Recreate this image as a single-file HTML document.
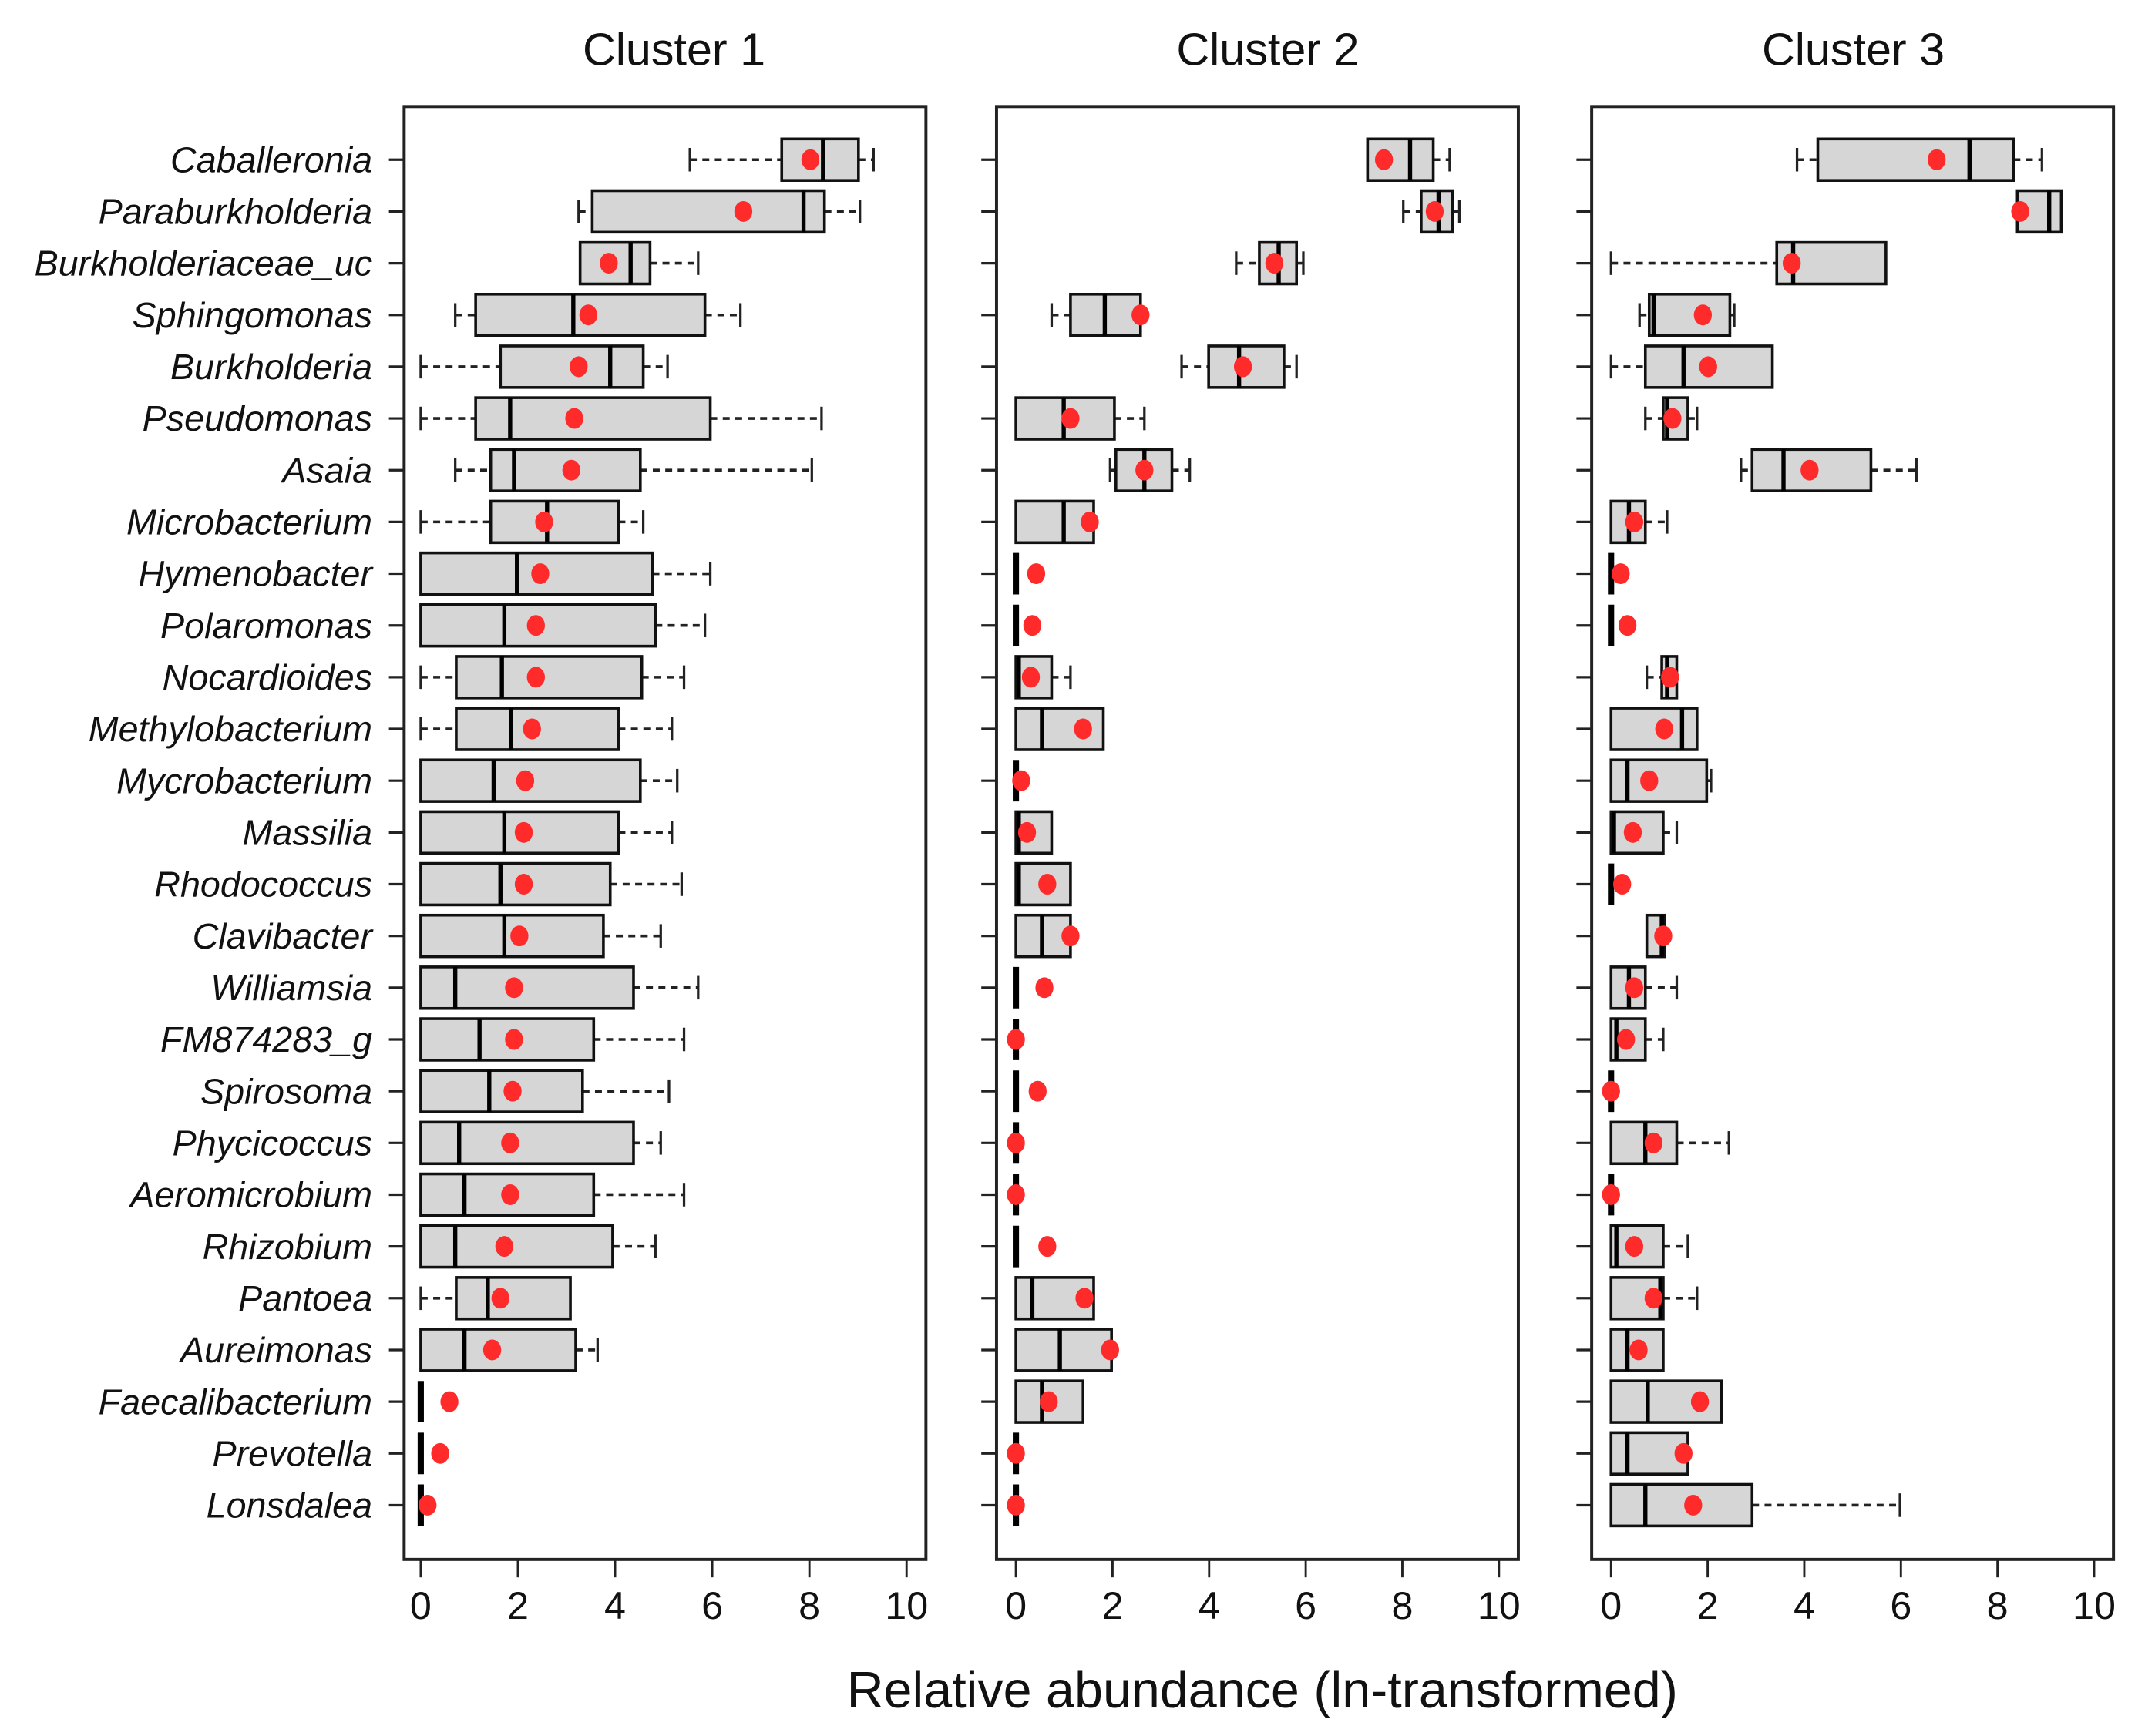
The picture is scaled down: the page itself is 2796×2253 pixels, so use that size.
<!DOCTYPE html>
<html><head><meta charset="utf-8">
<style>html,body{margin:0;padding:0;background:#fff}svg{display:block}</style>
</head><body>
<svg id="chart" width="2796" height="2253" viewBox="0 0 1557 1254.6" xmlns="http://www.w3.org/2000/svg" font-family="Liberation Sans, Arial, sans-serif"></svg>
<script>
const taxa=["Caballeronia","Paraburkholderia","Burkholderiaceae_uc","Sphingomonas","Burkholderia","Pseudomonas","Asaia","Microbacterium","Hymenobacter","Polaromonas","Nocardioides","Methylobacterium","Mycrobacterium","Massilia","Rhodococcus","Clavibacter","Williamsia","FM874283_g","Spirosoma","Phycicoccus","Aeromicrobium","Rhizobium","Pantoea","Aureimonas","Faecalibacterium","Prevotella","Lonsdalea"];
const clusterNames=["Cluster 1","Cluster 2","Cluster 3"];
const xTicks=[0,2,4,6,8,10];
// [whiskerLow, q1, median, q3, whiskerHigh]
const c1Box=[[5.54,7.43,8.28,9.01,9.32],[3.25,3.53,7.88,8.31,9.04],[3.28,3.28,4.32,4.72,5.71],[0.71,1.13,3.14,5.85,6.58],[0,1.64,3.9,4.58,5.08],[0,1.13,1.84,5.96,8.25],[0.71,1.44,1.92,4.52,8.05],[0,1.44,2.6,4.07,4.58],[0,0,1.98,4.77,5.96],[0,0,1.72,4.83,5.85],[0,0.73,1.67,4.55,5.42],[0,0.73,1.86,4.07,5.17],[0,0,1.5,4.52,5.28],[0,0,1.72,4.07,5.17],[0,0,1.64,3.9,5.37],[0,0,1.72,3.76,4.94],[0,0,0.71,4.38,5.71],[0,0,1.21,3.56,5.42],[0,0,1.41,3.33,5.11],[0,0,0.79,4.38,4.94],[0,0,0.9,3.56,5.42],[0,0,0.71,3.95,4.83],[0,0.73,1.38,3.08,3.08],[0,0,0.9,3.19,3.64],[0,0,0,0,0],[0,0,0,0,0],[0,0,0,0,0]];
const c1Mean=[8.02,6.64,3.87,3.45,3.25,3.16,3.1,2.54,2.46,2.37,2.37,2.29,2.15,2.12,2.12,2.03,1.92,1.92,1.89,1.84,1.84,1.72,1.64,1.47,0.59,0.4,0.14];
const c2Box=[[7.28,7.28,8.16,8.64,8.98],[8.02,8.39,8.75,9.04,9.18],[4.56,5.04,5.44,5.81,5.95],[0.74,1.13,1.84,2.58,2.58],[3.43,3.99,4.62,5.55,5.81],[0,0,0.99,2.04,2.66],[1.95,2.07,2.66,3.23,3.6],[0,0,0.99,1.61,1.61],[0,0,0,0,0],[0,0,0,0,0],[0,0,0.06,0.74,1.13],[0,0,0.54,1.81,1.81],[0,0,0,0,0],[0,0,0.06,0.74,0.74],[0,0,0.06,1.13,1.13],[0,0,0.54,1.13,1.13],[0,0,0,0,0],[0,0,0,0,0],[0,0,0,0,0],[0,0,0,0,0],[0,0,0,0,0],[0,0,0,0,0],[0,0,0.34,1.61,1.61],[0,0,0.91,1.98,1.98],[0,0,0.54,1.39,1.39],[0,0,0,0,0],[0,0,0,0,0]];
const c2Mean=[7.62,8.67,5.35,2.58,4.7,1.13,2.66,1.53,0.42,0.34,0.31,1.39,0.11,0.23,0.65,1.13,0.59,0,0.45,0,0,0.65,1.42,1.95,0.68,0,0];
const c3Box=[[3.85,4.28,7.42,8.33,8.92],[8.41,8.41,9.07,9.32,9.32],[0,3.43,3.77,5.69,5.69],[0.59,0.79,0.88,2.46,2.55],[0,0.71,1.5,3.34,3.34],[0.71,1.08,1.16,1.59,1.78],[2.69,2.92,3.57,5.38,6.32],[0,0,0.37,0.71,1.16],[0,0,0,0,0],[0,0,0,0,0],[0.74,1.05,1.16,1.36,1.36],[0,0,1.47,1.78,1.78],[0,0,0.34,1.98,2.07],[0,0,0.06,1.08,1.36],[0,0,0,0,0],[0.74,0.74,1.05,1.1,1.1],[0,0,0.37,0.71,1.36],[0,0,0.11,0.71,1.08],[0,0,0,0,0],[0,0,0.71,1.36,2.44],[0,0,0,0,0],[0,0,0.11,1.08,1.59],[0,0,1.02,1.08,1.78],[0,0,0.34,1.08,1.08],[0,0,0.76,2.29,2.29],[0,0,0.34,1.59,1.59],[0,0,0.71,2.92,5.98]];
const c3Mean=[6.74,8.47,3.74,1.9,2.01,1.27,4.11,0.48,0.2,0.34,1.22,1.1,0.79,0.45,0.23,1.08,0.48,0.31,0,0.88,0,0.48,0.88,0.57,1.84,1.5,1.7];

const boxes=[c1Box,c2Box,c3Box], means=[c1Mean,c2Mean,c3Mean];
const chartSvg=document.getElementById('chart');
const NS='http://www.w3.org/2000/svg';
function mk(tag,attrs,parent){const e=document.createElementNS(NS,tag);for(const k in attrs)e.setAttribute(k,attrs[k]);(parent||chartSvg).appendChild(e);return e;}
const panels=[{l:292,r:669,x0:304,x10:655,cx:487},{l:720,r:1097,x0:734,x10:1083,cx:916},{l:1150,r:1527,x0:1164,x10:1513,cx:1339}];
const topY=77,bottomY=1127,y0=115.4,dy=37.4,bh=30;
function yPos(i){return y0+i*dy;}

panels.forEach((p,pi)=>{
  const xs=v=>p.x0+(p.x10-p.x0)*v/10;
  const g=mk('g',{});
  
  
  const t=mk('text',{x:p.cx,y:47,'text-anchor':'middle','font-size':33,'fill':'#111'},g);
  t.textContent=clusterNames[pi];
  
  
  const fr=mk('rect',{x:p.l,y:topY,width:p.r-p.l,height:bottomY-topY,fill:'none',stroke:'#222','stroke-width':2.2},g);
  
  
  xTicks.forEach(v=>{
    const tl=mk('line',{x1:xs(v),x2:xs(v),y1:bottomY,y2:bottomY+13,stroke:'#222','stroke-width':1.6},g);
    
    
    const tx=mk('text',{x:xs(v),y:1170,'text-anchor':'middle','font-size':28,'fill':'#111'},g);
    tx.textContent=v;
    
    
  });
  taxa.forEach((name,i)=>{
    const y=yPos(i);
    const yt=mk('line',{x1:p.l-11,x2:p.l,y1:y,y2:y,stroke:'#222','stroke-width':1.8},g);
    
    
    if(pi===0){
      const lb=mk('text',{x:269,y:y+9,'text-anchor':'end','font-size':26,'font-style':'italic','fill':'#111'},g);
      lb.textContent=name;
      
      
    }
    const [wl,q1,md,q3,wh]=boxes[pi][i];
    const bg=mk('g',{},g);
    
    
    if(wl<q1){
      mk('line',{x1:xs(wl),x2:xs(q1),y1:y,y2:y,stroke:'#222','stroke-width':2,'stroke-dasharray':'5,4'},bg);
      mk('line',{x1:xs(wl),x2:xs(wl),y1:y-8.5,y2:y+8.5,stroke:'#222','stroke-width':1.8},bg);
    }
    if(wh>q3){
      mk('line',{x1:xs(q3),x2:xs(wh),y1:y,y2:y,stroke:'#222','stroke-width':2,'stroke-dasharray':'5,4'},bg);
      mk('line',{x1:xs(wh),x2:xs(wh),y1:y-8.5,y2:y+8.5,stroke:'#222','stroke-width':1.8},bg);
    }
    if(q3>q1){
      mk('rect',{x:xs(q1),y:y-bh/2,width:xs(q3)-xs(q1),height:bh,fill:'#d6d6d6',stroke:'#111','stroke-width':2},bg);
    }
    mk('line',{x1:xs(md),x2:xs(md),y1:y-bh/2,y2:y+bh/2,stroke:'#000','stroke-width':q3>q1?3:4.5},bg);
    const m=mk('ellipse',{cx:xs(means[pi][i]),cy:y,rx:6.5,ry:7.5,fill:'#ff2a2a'},bg);
    
    
  });
});
const xt=mk('text',{x:912,y:1234,'text-anchor':'middle','font-size':37,'fill':'#111'});
xt.textContent='Relative abundance (ln-transformed)';


</script>
</body></html>
